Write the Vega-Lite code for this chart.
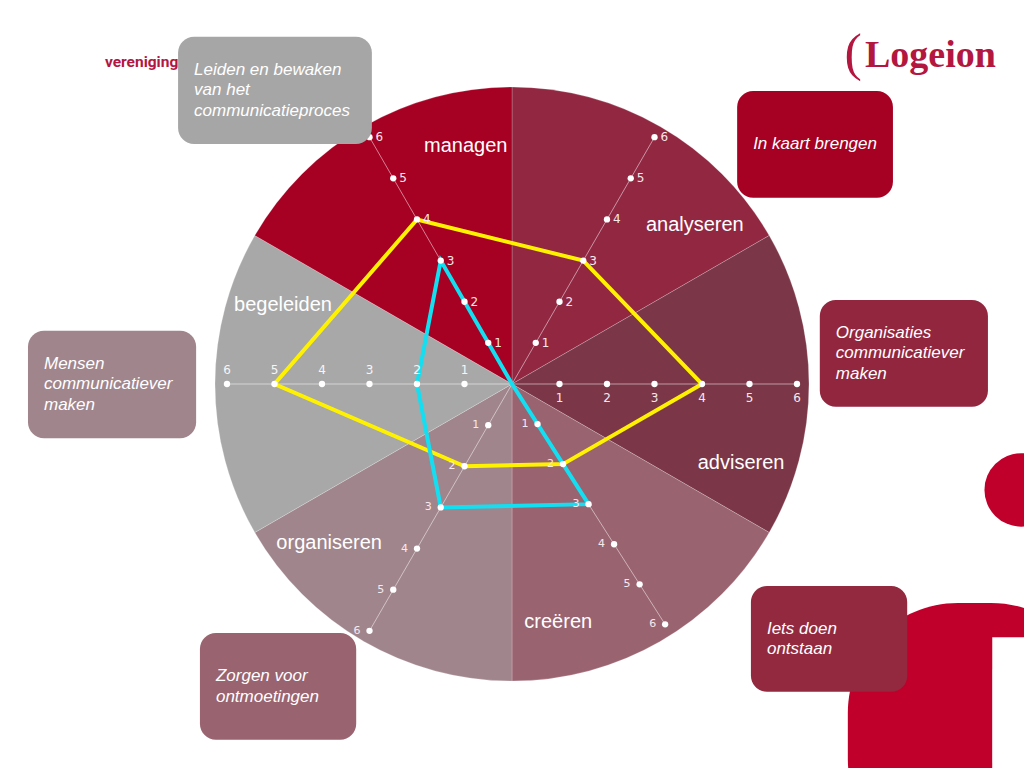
{
  "$schema": "https://vega.github.io/schema/vega-lite/v6.json",
  "width": 1024,
  "height": 768,
  "autosize": {"type": "fit", "contains": "padding"},
  "padding": 0,
  "background": "#ffffff",
  "config": {"view": {"stroke": null}},
  "datasets": {
    "categories": [
      {"cat": "analyseren", "idx": 0, "angle": 30, "share": 1, "ticks": [1, 2, 3, 4, 5, 6]},
      {"cat": "adviseren", "idx": 1, "angle": 90, "share": 1, "ticks": [1, 2, 3, 4, 5, 6]},
      {"cat": "creëren", "idx": 2, "angle": 147.5, "share": 1, "ticks": [1, 2, 3, 4, 5, 6]},
      {"cat": "organiseren", "idx": 3, "angle": 210, "share": 1, "ticks": [1, 2, 3, 4, 5, 6]},
      {"cat": "begeleiden", "idx": 4, "angle": 270, "share": 1, "ticks": [1, 2, 3, 4, 5, 6]},
      {"cat": "managen", "idx": 5, "angle": 330, "share": 1, "ticks": [1, 2, 3, 4, 5, 6]}
    ],
    "scores": [
      {"series": "reeks 1", "cat": "analyseren", "score": 3},
      {"series": "reeks 1", "cat": "adviseren", "score": 4},
      {"series": "reeks 1", "cat": "creëren", "score": 2},
      {"series": "reeks 1", "cat": "organiseren", "score": 2},
      {"series": "reeks 1", "cat": "begeleiden", "score": 5},
      {"series": "reeks 1", "cat": "managen", "score": 4},
      {"series": "reeks 2", "cat": "analyseren", "score": 0},
      {"series": "reeks 2", "cat": "adviseren", "score": 0},
      {"series": "reeks 2", "cat": "creëren", "score": 3},
      {"series": "reeks 2", "cat": "organiseren", "score": 3},
      {"series": "reeks 2", "cat": "begeleiden", "score": 2},
      {"series": "reeks 2", "cat": "managen", "score": 3}
    ],
    "boxes": [
      {"id": "b1", "text": "Leiden en bewaken\nvan het\ncommunicatieproces", "x1": -7.03, "x2": -2.95, "y1": 7.31, "y2": 5.05},
      {"id": "b2", "text": "In kaart brengen", "x1": 4.74, "x2": 8.02, "y1": 6.17, "y2": 3.92},
      {"id": "b3", "text": "Organisaties\ncommunicatiever\nmaken", "x1": 6.48, "x2": 10.02, "y1": 1.77, "y2": -0.48},
      {"id": "b4", "text": "Iets doen\nontstaan", "x1": 5.03, "x2": 8.32, "y1": -4.25, "y2": -6.48},
      {"id": "b5", "text": "Zorgen voor\nontmoetingen", "x1": -6.57, "x2": -3.28, "y1": -5.24, "y2": -7.49},
      {"id": "b6", "text": "Mensen\ncommunicatiever\nmaken", "x1": -10.19, "x2": -6.65, "y1": 1.12, "y2": -1.14}
    ],
    "brand": [
      {"part": "vereniging", "text": "vereniging", "x": -8.57, "y": 6.67},
      {"part": "haak", "text": "(", "x": 7.0, "y": 6.6},
      {"part": "logo", "text": "Logeion", "x": 7.43, "y": 6.67}
    ],
    "deco": [
      {"part": "rood", "x1": 7.07, "x2": 12.4, "y1": -4.61, "y2": -10.2},
      {"part": "wit", "x1": 10.11, "x2": 12.4, "y1": -5.33, "y2": -10.2},
      {"part": "stip", "x1": 10.72, "x2": 10.72, "y1": -2.23, "y2": -2.23}
    ]
  },
  "layer": [
    {
      "data": {"name": "deco"},
      "transform": [{"filter": "datum.part == 'rood'"}],
      "mark": {"type": "rect", "color": "#C0002B", "cornerRadius": 110, "clip": true},
      "encoding": {
        "x": {"field": "x1", "type": "quantitative", "scale": {"domain": [-10.779, 10.779], "nice": false, "zero": false}, "axis": null},
        "x2": {"field": "x2"},
        "y": {"field": "y1", "type": "quantitative", "scale": {"domain": [-8.084, 8.084], "nice": false, "zero": false}, "axis": null},
        "y2": {"field": "y2"}
      }
    },
    {
      "data": {"name": "deco"},
      "transform": [{"filter": "datum.part == 'wit'"}],
      "mark": {"type": "rect", "color": "#ffffff", "clip": true},
      "encoding": {
        "x": {"field": "x1", "type": "quantitative", "axis": null},
        "x2": {"field": "x2"},
        "y": {"field": "y1", "type": "quantitative", "axis": null},
        "y2": {"field": "y2"}
      }
    },
    {
      "data": {"name": "deco"},
      "transform": [{"filter": "datum.part == 'stip'"}],
      "mark": {"type": "point", "shape": "circle", "filled": true, "color": "#C0002B", "opacity": 1, "size": 5400, "clip": true},
      "encoding": {
        "x": {"field": "x1", "type": "quantitative", "axis": null},
        "y": {"field": "y1", "type": "quantitative", "axis": null}
      }
    },
    {
      "data": {"name": "categories"},
      "mark": {"type": "arc", "outerRadius": 297, "stroke": "#ffffff", "strokeWidth": 0.7, "strokeOpacity": 0.3},
      "encoding": {
        "theta": {"field": "share", "type": "quantitative", "stack": true},
        "order": {"field": "idx", "type": "quantitative"},
        "fill": {
          "field": "cat",
          "type": "nominal",
          "scale": {
            "domain": ["analyseren", "adviseren", "creëren", "organiseren", "begeleiden", "managen"],
            "range": ["#922742", "#7B3647", "#9A6370", "#A0858C", "#A8A8A8", "#A60023"]
          },
          "legend": null
        }
      }
    },
    {
      "data": {"name": "categories"},
      "transform": [
        {"calculate": "6 * sin(datum.angle * PI / 180)", "as": "ex"},
        {"calculate": "6 * cos(datum.angle * PI / 180)", "as": "ey"}
      ],
      "mark": {"type": "rule", "color": "#ffffff", "strokeWidth": 1, "opacity": 0.5},
      "encoding": {
        "x": {"field": "ex", "type": "quantitative", "axis": null},
        "y": {"field": "ey", "type": "quantitative", "axis": null},
        "x2": {"datum": 0},
        "y2": {"datum": 0}
      }
    },
    {
      "data": {"name": "scores"},
      "transform": [
        {"filter": "datum.series == 'reeks 1'"},
        {"lookup": "cat", "from": {"data": {"name": "categories"}, "key": "cat", "fields": ["angle", "idx"]}},
        {"calculate": "datum.score * sin(datum.angle * PI / 180)", "as": "px"},
        {"calculate": "datum.score * cos(datum.angle * PI / 180)", "as": "py"}
      ],
      "mark": {"type": "line", "interpolate": "linear-closed", "color": "#FFF200", "strokeWidth": 4},
      "encoding": {
        "x": {"field": "px", "type": "quantitative", "axis": null},
        "y": {"field": "py", "type": "quantitative", "axis": null},
        "order": {"field": "idx", "type": "quantitative"}
      }
    },
    {
      "data": {"name": "scores"},
      "transform": [
        {"filter": "datum.series == 'reeks 2'"},
        {"lookup": "cat", "from": {"data": {"name": "categories"}, "key": "cat", "fields": ["angle", "idx"]}},
        {"calculate": "datum.score * sin(datum.angle * PI / 180)", "as": "px"},
        {"calculate": "datum.score * cos(datum.angle * PI / 180)", "as": "py"}
      ],
      "mark": {"type": "line", "interpolate": "linear-closed", "color": "#12E0F2", "strokeWidth": 4},
      "encoding": {
        "x": {"field": "px", "type": "quantitative", "axis": null},
        "y": {"field": "py", "type": "quantitative", "axis": null},
        "order": {"field": "idx", "type": "quantitative"}
      }
    },
    {
      "data": {"name": "categories"},
      "transform": [
        {"flatten": ["ticks"]},
        {"calculate": "datum.ticks * sin(datum.angle * PI / 180)", "as": "tx"},
        {"calculate": "datum.ticks * cos(datum.angle * PI / 180)", "as": "ty"}
      ],
      "mark": {"type": "point", "shape": "circle", "filled": true, "color": "#ffffff", "opacity": 1, "size": 40},
      "encoding": {
        "x": {"field": "tx", "type": "quantitative", "axis": null},
        "y": {"field": "ty", "type": "quantitative", "axis": null}
      }
    },
    {
      "data": {"name": "categories"},
      "transform": [
        {"filter": "datum.angle == 90"},
        {"flatten": ["ticks"]},
        {"calculate": "datum.ticks * sin(datum.angle * PI / 180)", "as": "tx"},
        {"calculate": "datum.ticks * cos(datum.angle * PI / 180)", "as": "ty"}
      ],
      "mark": {"type": "text", "color": "#F6E9EC", "font": "DejaVu Sans", "fontSize": 12, "align": "center", "baseline": "middle", "dy": 14},
      "encoding": {
        "x": {"field": "tx", "type": "quantitative", "axis": null},
        "y": {"field": "ty", "type": "quantitative", "axis": null},
        "text": {"field": "ticks", "type": "nominal"}
      }
    },
    {
      "data": {"name": "categories"},
      "transform": [
        {"filter": "datum.angle == 270"},
        {"flatten": ["ticks"]},
        {"calculate": "datum.ticks * sin(datum.angle * PI / 180)", "as": "tx"},
        {"calculate": "datum.ticks * cos(datum.angle * PI / 180)", "as": "ty"}
      ],
      "mark": {"type": "text", "color": "#F6F6F6", "font": "DejaVu Sans", "fontSize": 12, "align": "center", "baseline": "middle", "dy": -14},
      "encoding": {
        "x": {"field": "tx", "type": "quantitative", "axis": null},
        "y": {"field": "ty", "type": "quantitative", "axis": null},
        "text": {"field": "ticks", "type": "nominal"}
      }
    },
    {
      "data": {"name": "categories"},
      "transform": [
        {"filter": "datum.angle == 30 || datum.angle == 330"},
        {"flatten": ["ticks"]},
        {"calculate": "datum.ticks * sin(datum.angle * PI / 180)", "as": "tx"},
        {"calculate": "datum.ticks * cos(datum.angle * PI / 180)", "as": "ty"}
      ],
      "mark": {"type": "text", "color": "#F6E9EC", "font": "DejaVu Sans", "fontSize": 12, "align": "left", "baseline": "middle", "dx": 6},
      "encoding": {
        "x": {"field": "tx", "type": "quantitative", "axis": null},
        "y": {"field": "ty", "type": "quantitative", "axis": null},
        "text": {"field": "ticks", "type": "nominal"}
      }
    },
    {
      "data": {"name": "categories"},
      "transform": [
        {"filter": "datum.angle == 147.5 || datum.angle == 210"},
        {"flatten": ["ticks"]},
        {"calculate": "datum.ticks * sin(datum.angle * PI / 180)", "as": "tx"},
        {"calculate": "datum.ticks * cos(datum.angle * PI / 180)", "as": "ty"}
      ],
      "mark": {"type": "text", "color": "#F6E9EC", "font": "DejaVu Sans", "fontSize": 11, "align": "right", "baseline": "middle", "dx": -9},
      "encoding": {
        "x": {"field": "tx", "type": "quantitative", "axis": null},
        "y": {"field": "ty", "type": "quantitative", "axis": null},
        "text": {"field": "ticks", "type": "nominal"}
      }
    },
    {
      "data": {"name": "categories"},
      "transform": [
        {"calculate": "(datum.idx * 60 + 49) * PI / 180", "as": "la"},
        {"calculate": "5.1 * sin(datum.la)", "as": "lx"},
        {"calculate": "5.1 * cos(datum.la)", "as": "ly"}
      ],
      "mark": {"type": "text", "color": "#ffffff", "font": "Liberation Sans", "fontSize": 20, "align": "center", "baseline": "middle"},
      "encoding": {
        "x": {"field": "lx", "type": "quantitative", "axis": null},
        "y": {"field": "ly", "type": "quantitative", "axis": null},
        "text": {"field": "cat", "type": "nominal"}
      }
    },
    {
      "data": {"name": "boxes"},
      "mark": {"type": "rect", "cornerRadius": 16},
      "encoding": {
        "x": {"field": "x1", "type": "quantitative", "axis": null},
        "x2": {"field": "x2"},
        "y": {"field": "y1", "type": "quantitative", "axis": null},
        "y2": {"field": "y2"},
        "color": {
          "field": "id",
          "type": "nominal",
          "scale": {
            "domain": ["b1", "b2", "b3", "b4", "b5", "b6"],
            "range": ["#A6A6A6", "#A60023", "#93263F", "#93293F", "#9A6370", "#A0858C"]
          },
          "legend": null
        }
      }
    },
    {
      "data": {"name": "boxes"},
      "transform": [
        {"calculate": "length(split(datum.text, '\\n'))", "as": "nlines"},
        {"calculate": "(datum.y1 + datum.y2) / 2 + (datum.nlines - 1) * 0.2158", "as": "cy"}
      ],
      "mark": {"type": "text", "color": "#ffffff", "font": "Liberation Sans", "fontStyle": "italic", "fontSize": 17, "lineHeight": 20.5, "lineBreak": "\n", "align": "left", "baseline": "middle", "dx": 16},
      "encoding": {
        "x": {"field": "x1", "type": "quantitative", "axis": null},
        "y": {"field": "cy", "type": "quantitative", "axis": null},
        "text": {"field": "text", "type": "nominal"}
      }
    },
    {
      "data": {"name": "brand"},
      "transform": [{"filter": "datum.part == 'vereniging'"}],
      "mark": {"type": "text", "color": "#B3163F", "font": "Roboto", "fontWeight": "bold", "fontSize": 15.5, "align": "left", "baseline": "alphabetic"},
      "encoding": {
        "x": {"field": "x", "type": "quantitative", "axis": null},
        "y": {"field": "y", "type": "quantitative", "axis": null},
        "text": {"field": "text", "type": "nominal"}
      }
    },
    {
      "data": {"name": "brand"},
      "transform": [{"filter": "datum.part == 'haak'"}],
      "mark": {"type": "text", "color": "#B3163F", "font": "Liberation Serif", "fontSize": 52, "align": "left", "baseline": "alphabetic"},
      "encoding": {
        "x": {"field": "x", "type": "quantitative", "axis": null},
        "y": {"field": "y", "type": "quantitative", "axis": null},
        "text": {"field": "text", "type": "nominal"}
      }
    },
    {
      "data": {"name": "brand"},
      "transform": [{"filter": "datum.part == 'logo'"}],
      "mark": {"type": "text", "color": "#B3163F", "font": "Liberation Serif", "fontWeight": "bold", "fontSize": 38, "align": "left", "baseline": "alphabetic"},
      "encoding": {
        "x": {"field": "x", "type": "quantitative", "axis": null},
        "y": {"field": "y", "type": "quantitative", "axis": null},
        "text": {"field": "text", "type": "nominal"}
      }
    }
  ]
}
